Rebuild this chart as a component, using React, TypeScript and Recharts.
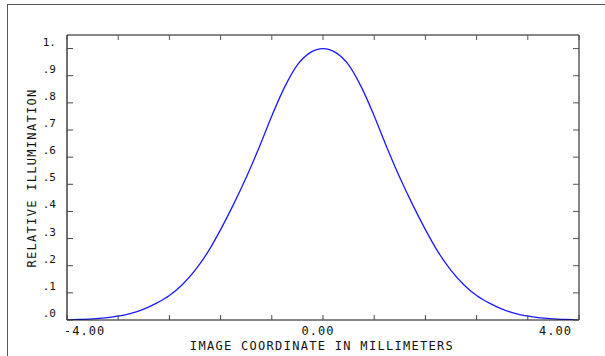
import React from 'react';
import { LineChart, Line, XAxis, YAxis } from 'recharts';

// image coordinate (mm) and relative illumination
const positions = [
    -4.0, -3.8, -3.6, -3.4, -3.2, -3.0, -2.8, -2.6, -2.4, -2.2, -2.0,
    -1.8, -1.6, -1.4, -1.2, -1.0, -0.8, -0.6, -0.4, -0.2, 0.0,
    0.2, 0.4, 0.6, 0.8, 1.0, 1.2, 1.4, 1.6, 1.8, 2.0,
    2.2, 2.4, 2.6, 2.8, 3.0, 3.2, 3.4, 3.6, 3.8, 4.0,
];
const illumination = [
    0.000, 0.002, 0.004, 0.008, 0.014, 0.024, 0.040, 0.062, 0.090, 0.130, 0.183,
    0.250, 0.333, 0.425, 0.525, 0.635, 0.752, 0.858, 0.940, 0.985, 1.000,
    0.985, 0.940, 0.858, 0.752, 0.635, 0.525, 0.425, 0.333, 0.250, 0.183,
    0.130, 0.090, 0.062, 0.040, 0.024, 0.014, 0.008, 0.004, 0.002, 0.000,
];

const xTicks = [-4, -3.2, -2.4, -1.6, -0.8, 0, 0.8, 1.6, 2.4, 3.2, 4];
const xTickLabels: Record<string, string> = { '-4': '-4.00', '0': '0.00', '4': '4.00' };
const yTicks = [0, 0.1, 0.2, 0.3, 0.4, 0.5, 0.6, 0.7, 0.8, 0.9, 1.0];
const yTickLabels = ['.0', '.1', '.2', '.3', '.4', '.5', '.6', '.7', '.8', '.9', '1.'];

const FONT = '"DejaVu Sans Mono", monospace';
const INK = '#111';

const data = positions.map((x, i) => ({ x, y: illumination[i] }));

function BottomTick(props: any) {
    const { x, y, payload } = props;
    const label = xTickLabels[String(payload.value)];
    let anchor = 'middle';
    let dx = -5;
    if (payload.value === -4) { anchor = 'start'; dx = -3; }
    if (payload.value === 4) { anchor = 'end'; dx = -7; }
    return (
        <g>
            <line x1={x} y1={y} x2={x} y2={y - 5} stroke="#444" strokeWidth={1} />
            {label && (
                <text x={x + dx} y={y + 15} textAnchor={anchor} fontFamily={FONT} fontSize={12}
                    letterSpacing={1} fill={INK}>{label}</text>
            )}
        </g>
    );
}

function TopTick(props: any) {
    const { x, y } = props;
    return <line x1={x} y1={y} x2={x} y2={y + 5} stroke="#555" strokeWidth={1} />;
}

function LeftTick(props: any) {
    const { x, y, payload } = props;
    const idx = yTicks.indexOf(payload.value);
    return (
        <g>
            <line x1={x} y1={y} x2={x + 6} y2={y} stroke="#444" strokeWidth={1} />
            <text x={x - 11} y={y - 3} textAnchor="end" fontFamily={FONT} fontSize={11} fill={INK}>
                {yTickLabels[idx]}
            </text>
        </g>
    );
}

function RightTick(props: any) {
    const { x, y } = props;
    return <line x1={x} y1={y} x2={x - 6} y2={y} stroke="#555" strokeWidth={1} />;
}

export default function App() {
    return (
        <div style={{ position: 'relative', width: 605, height: 356, background: '#fff', overflow: 'hidden' }}>
            <style>{'body{margin:0}'}</style>
            {/* outer frame, only top and left edges visible */}
            <div style={{ position: 'absolute', left: 7, top: 4, width: 620, height: 400, borderTop: '1px solid #555', borderLeft: '1px solid #555' }} />
            <div style={{ position: 'absolute', left: 0, top: 0 }}>
                <LineChart width={605} height={356} data={data} margin={{ top: 34, right: 25, bottom: 35, left: 66 }}>
                    <XAxis xAxisId="bottom" dataKey="x" type="number" scale="linear" domain={[-4, 4]} ticks={xTicks} interval={0}
                        height={1} tickSize={0} tickMargin={0} tickLine={false}
                        axisLine={{ stroke: INK, strokeWidth: 1.2 }} tick={<BottomTick />} />
                    <XAxis xAxisId="top" dataKey="x" orientation="top" type="number" scale="linear" domain={[-4, 4]} ticks={xTicks} interval={0}
                        height={1} tickSize={0} tickMargin={0} tickLine={false}
                        axisLine={{ stroke: INK, strokeWidth: 1.2 }} tick={<TopTick />} />
                    <YAxis yAxisId="left" dataKey="y" type="number" scale="linear" domain={[0, 1.05]} ticks={yTicks} interval={0} allowDataOverflow
                        width={1} tickSize={0} tickMargin={0} tickLine={false}
                        axisLine={{ stroke: INK, strokeWidth: 1.2 }} tick={<LeftTick />} />
                    <YAxis yAxisId="right" dataKey="y" orientation="right" type="number" scale="linear" domain={[0, 1.05]} ticks={yTicks} interval={0} allowDataOverflow
                        width={1} tickSize={0} tickMargin={0} tickLine={false}
                        axisLine={{ stroke: '#333', strokeWidth: 1.2 }} tick={<RightTick />} />
                    <Line xAxisId="bottom" yAxisId="left" type="monotone" dataKey="y" stroke="#1a1aff" strokeWidth={1.3} dot={false} isAnimationActive={false} />
                    <Line xAxisId="top" yAxisId="right" dataKey="y" stroke="none" dot={false} activeDot={false} legendType="none" isAnimationActive={false} />
                </LineChart>
            </div>
            <div style={{ position: 'absolute', left: 0, width: 644, top: 339, textAlign: 'center', fontFamily: FONT, fontSize: 12, letterSpacing: 1.3, color: INK, whiteSpace: 'nowrap' }}>
                IMAGE COORDINATE IN MILLIMETERS
            </div>
            <div style={{ position: 'absolute', left: 32, top: 178, transform: 'translate(-50%, -50%) rotate(-90deg)', fontFamily: FONT, fontSize: 12, letterSpacing: 1.3, color: INK, whiteSpace: 'nowrap' }}>
                RELATIVE ILLUMINATION
            </div>
        </div>
    );
}
